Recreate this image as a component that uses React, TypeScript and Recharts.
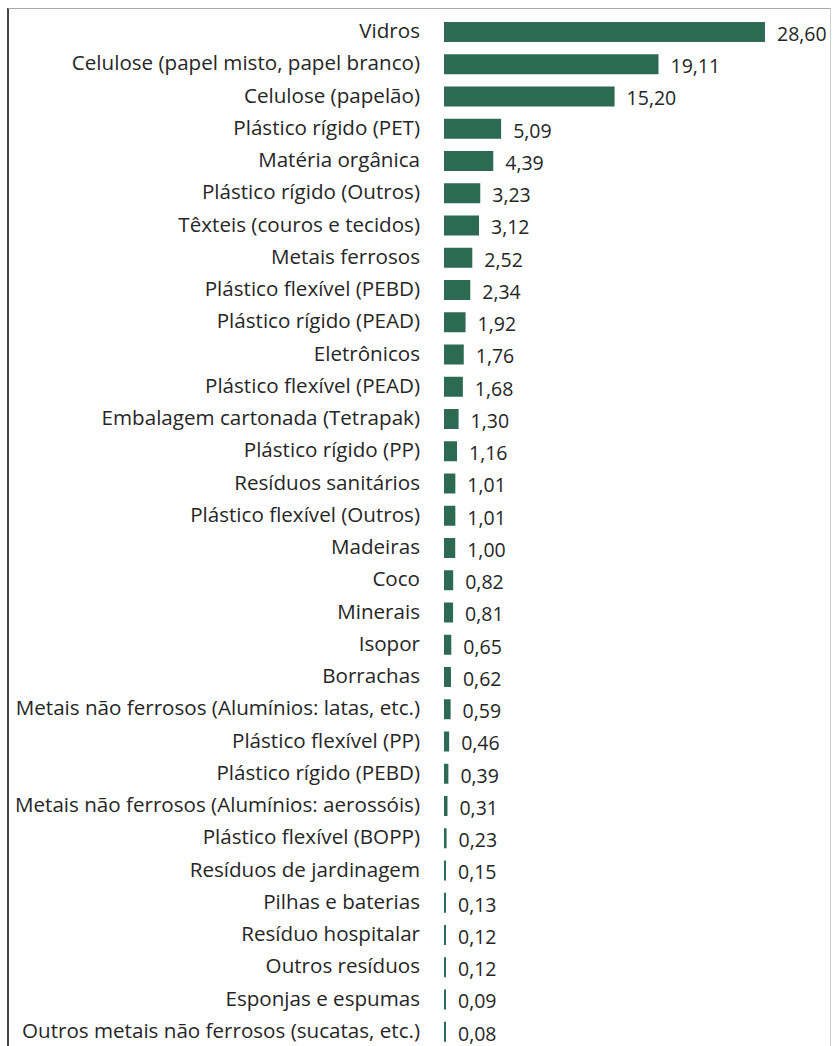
import React from "react";
import { BarChart, Bar, XAxis, YAxis, LabelList } from "recharts";

const categories = [
  "Vidros",
  "Celulose (papel misto, papel branco)",
  "Celulose (papelão)",
  "Plástico rígido (PET)",
  "Matéria orgânica",
  "Plástico rígido (Outros)",
  "Têxteis (couros e tecidos)",
  "Metais ferrosos",
  "Plástico flexível (PEBD)",
  "Plástico rígido (PEAD)",
  "Eletrônicos",
  "Plástico flexível (PEAD)",
  "Embalagem cartonada (Tetrapak)",
  "Plástico rígido (PP)",
  "Resíduos sanitários",
  "Plástico flexível (Outros)",
  "Madeiras",
  "Coco",
  "Minerais",
  "Isopor",
  "Borrachas",
  "Metais não ferrosos (Alumínios: latas, etc.)",
  "Plástico flexível (PP)",
  "Plástico rígido (PEBD)",
  "Metais não ferrosos (Alumínios: aerossóis)",
  "Plástico flexível (BOPP)",
  "Resíduos de jardinagem",
  "Pilhas e baterias",
  "Resíduo hospitalar",
  "Outros resíduos",
  "Esponjas e espumas",
  "Outros metais não ferrosos (sucatas, etc.)",
];

const values = [
  28.6, 19.11, 15.2, 5.09, 4.39, 3.23, 3.12, 2.52, 2.34, 1.92, 1.76, 1.68, 1.3,
  1.16, 1.01, 1.01, 1.0, 0.82, 0.81, 0.65, 0.62, 0.59, 0.46, 0.39, 0.31, 0.23,
  0.15, 0.13, 0.12, 0.12, 0.09, 0.08,
];

const data = categories.map((name, i) => ({ name, value: values[i] }));

const FONT = "'Open Sans', 'Noto Sans', sans-serif";
const BAR_COLOR = "#2c6a53";
const TEXT_COLOR = "#262626";

const formatValue = (v: number) => v.toFixed(2).replace(".", ",");

const CategoryTick = (props: any) => {
  const { x, y, payload } = props;
  return (
    <text
      x={x}
      y={y}
      dy={6}
      textAnchor="end"
      fontFamily={FONT}
      fontSize={20.6}
      fill={TEXT_COLOR}
    >
      {payload.value}
    </text>
  );
};

export default function App() {
  return (
    <div
      style={{
        position: "absolute",
        left: 0,
        top: 0,
        width: 834,
        height: 1046,
        overflow: "hidden",
        background: "#fff",
      }}
    >
      <div
        style={{
          position: "absolute",
          left: 7,
          top: 8,
          width: 821,
          height: 1060,
          borderTop: "1px solid #a8a8a8",
          borderLeft: "2px solid #444",
          borderRight: "1px solid #cfcfcf",
        }}
      />
      <div style={{ position: "absolute", left: 0, top: 0 }}>
        <BarChart
          width={834}
          height={1048}
          data={data}
          layout="vertical"
          margin={{ top: 16, right: 69, bottom: 0, left: 0 }}
          barSize={20}
        >
          <XAxis type="number" domain={[0, 28.6]} hide />
          <YAxis
            type="category"
            dataKey="name"
            width={444}
            axisLine={false}
            tickLine={false}
            interval={0}
            tick={<CategoryTick />}
            tickMargin={18}
          />
          <Bar
            dataKey="value"
            fill={BAR_COLOR}
            minPointSize={2}
            isAnimationActive={false}
          >
            <LabelList
              dataKey="value"
              position="right"
              offset={12}
              formatter={(v: any) => formatValue(Number(v))}
              style={{ fontFamily: FONT, fontSize: 19.5, fill: TEXT_COLOR }}
              dy={2}
            />
          </Bar>
        </BarChart>
      </div>
    </div>
  );
}
